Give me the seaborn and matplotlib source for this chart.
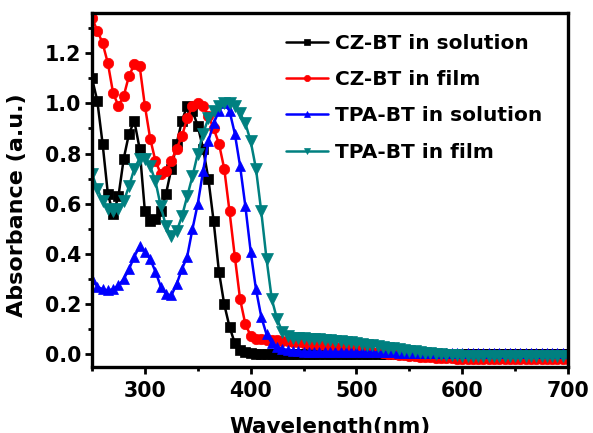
import matplotlib
matplotlib.use("Agg")
import matplotlib.pyplot as plt
from matplotlib.ticker import MultipleLocator, FormatStrFormatter
import seaborn as sns
import pandas as pd

wavelength = list(range(250, 705, 5))

cz_solution = [
    1.10, 1.01, 0.84, 0.64, 0.56, 0.63, 0.78, 0.88, 0.93, 0.82,
    0.57, 0.53, 0.54, 0.57, 0.64, 0.74, 0.84, 0.93, 0.99, 0.97,
    0.91, 0.82, 0.70, 0.53, 0.33, 0.20, 0.11, 0.045, 0.018, 0.008,
    0.004, 0.002, 0.001, 0.0, 0.0, 0.0, 0.0, 0.0, 0.0, 0.0,
    0.0, 0.0, 0.0, 0.0, 0.0, 0.0, 0.0, 0.0, 0.0, 0.0,
    0.0, 0.0, 0.0, 0.0, 0.0, 0.0, 0.0, 0.0, 0.0, 0.0,
    0.0, 0.0, 0.0, 0.0, 0.0, 0.0, 0.0, 0.0, 0.0, 0.0,
    0.0, 0.0, 0.0, 0.0, 0.0, 0.0, 0.0, 0.0, 0.0, 0.0,
    0.0, 0.0, 0.0, 0.0, 0.0, 0.0, 0.0, 0.0, 0.0, 0.0,
    0.0,
]

cz_film = [
    1.34, 1.29, 1.24, 1.16, 1.04, 0.99, 1.03, 1.11, 1.155, 1.15,
    0.99, 0.86, 0.77, 0.72, 0.73, 0.77, 0.82, 0.87, 0.94, 0.99,
    1.00, 0.99, 0.95, 0.90, 0.84, 0.74, 0.57, 0.39, 0.22, 0.12,
    0.075, 0.063, 0.060, 0.058, 0.057, 0.056, 0.055, 0.053, 0.050, 0.048,
    0.046, 0.043, 0.040, 0.038, 0.036, 0.034, 0.031, 0.028, 0.025, 0.022,
    0.020, 0.017, 0.014, 0.011, 0.008, 0.005, 0.002, 0.0, -0.002, -0.004,
    -0.006, -0.008, -0.010, -0.011, -0.012, -0.013, -0.014, -0.015, -0.016, -0.017,
    -0.018, -0.018, -0.019, -0.019, -0.019, -0.020, -0.020, -0.020, -0.020, -0.020,
    -0.020, -0.020, -0.020, -0.020, -0.020, -0.020, -0.020, -0.020, -0.020, -0.020,
    -0.020,
]

tpa_solution = [
    0.30, 0.27, 0.26, 0.255, 0.26, 0.275, 0.30, 0.34, 0.39, 0.43,
    0.41, 0.38, 0.33, 0.27, 0.24, 0.235, 0.28, 0.34, 0.39, 0.50,
    0.60, 0.73, 0.85, 0.92, 0.97, 1.00, 0.97, 0.88, 0.75, 0.59,
    0.41, 0.26, 0.15, 0.08, 0.045, 0.03, 0.022, 0.018, 0.015, 0.012,
    0.011, 0.010, 0.010, 0.010, 0.010, 0.010, 0.010, 0.010, 0.010, 0.009,
    0.009, 0.009, 0.009, 0.008, 0.008, 0.008, 0.008, 0.008, 0.007, 0.007,
    0.007, 0.007, 0.007, 0.006, 0.006, 0.006, 0.006, 0.006, 0.006, 0.005,
    0.005, 0.005, 0.005, 0.005, 0.005, 0.005, 0.005, 0.005, 0.005, 0.005,
    0.005, 0.005, 0.005, 0.005, 0.005, 0.005, 0.005, 0.005, 0.005, 0.005,
    0.005,
]

tpa_film = [
    0.72, 0.66, 0.61, 0.58, 0.57, 0.58, 0.61, 0.67, 0.74, 0.78,
    0.78, 0.75, 0.69, 0.59, 0.51, 0.47, 0.49, 0.55, 0.63, 0.71,
    0.80, 0.88, 0.94, 0.97, 0.99, 1.00, 1.00, 0.99, 0.96, 0.92,
    0.85, 0.74, 0.57, 0.38, 0.22, 0.14, 0.09, 0.072, 0.066, 0.065,
    0.064, 0.063, 0.062, 0.060, 0.058, 0.056, 0.054, 0.052, 0.050, 0.048,
    0.045, 0.042, 0.039, 0.036, 0.033, 0.030, 0.027, 0.024, 0.021, 0.018,
    0.015, 0.012, 0.009, 0.006, 0.004, 0.002, 0.0, -0.002, -0.003, -0.004,
    -0.005, -0.005, -0.005, -0.006, -0.006, -0.006, -0.006, -0.007, -0.007, -0.007,
    -0.007, -0.007, -0.008, -0.008, -0.008, -0.008, -0.008, -0.008, -0.008, -0.008,
    -0.008,
]

series_names = ["CZ-BT in solution", "CZ-BT in film", "TPA-BT in solution", "TPA-BT in film"]
series_values = [cz_solution, cz_film, tpa_solution, tpa_film]
x_ticks = [300, 400, 500, 600, 700]
y_ticks = [0.0, 0.2, 0.4, 0.6, 0.8, 1.0, 1.2]

colors = ["#000000", "#FF0000", "#0000FF", "#008080"]
markers = ["s", "o", "^", "v"]
msizes = [6.5, 7.5, 7.5, 8.0]

sns.set_style("ticks")
plt.rcParams["font.family"] = ["DejaVu Sans"]
plt.rcParams["font.weight"] = "bold"
plt.rcParams["text.color"] = "black"
plt.rcParams["axes.labelcolor"] = "black"
plt.rcParams["xtick.color"] = "black"
plt.rcParams["ytick.color"] = "black"

fig = plt.figure(figsize=(5.93, 4.33), dpi=100)
ax = fig.add_axes([92 / 593, 66 / 433, 476 / 593, 354 / 433])

for name, vals, c, m, ms in zip(series_names, series_values, colors, markers, msizes):
    df = pd.DataFrame({"Wavelength": wavelength, "Absorbance": vals})
    sns.lineplot(data=df, x="Wavelength", y="Absorbance", ax=ax, color=c,
                 marker=m, markersize=ms, markeredgecolor=c, markeredgewidth=0.5,
                 linewidth=1.8, label=name)

ax.set_xlim(250, 700)
ax.set_ylim(-0.05, 1.36)
ax.set_xticks(x_ticks)
ax.set_yticks(y_ticks)
ax.yaxis.set_major_formatter(FormatStrFormatter("%.1f"))
ax.xaxis.set_minor_locator(MultipleLocator(50))
ax.yaxis.set_minor_locator(MultipleLocator(0.1))

for sp in ax.spines.values():
    sp.set_linewidth(2.4)
    sp.set_color("black")

ax.tick_params(axis="both", which="major", direction="out", length=5, width=2,
               labelsize=14.8, colors="black", labelcolor="black")
ax.tick_params(axis="both", which="minor", direction="out", length=3, width=2)
ax.tick_params(axis="x", which="both", pad=5, top=False)
ax.tick_params(axis="y", which="both", pad=3, right=False)
for lab in ax.get_xticklabels() + ax.get_yticklabels():
    lab.set_fontweight("bold")
    lab.set_color("black")

ax.set_xlabel("Wavelength(nm)", fontsize=15.5, fontweight="bold", color="black")
ax.set_ylabel("Absorbance (a.u.)", fontsize=16, fontweight="bold", color="black")
ax.xaxis.set_label_coords(0.5, -0.141)
ax.yaxis.set_label_coords(-0.137, 0.458)

handles, labels = ax.get_legend_handles_labels()
leg = ax.legend(handles, labels, loc="upper left", bbox_to_anchor=(0.408, 0.94),
                frameon=False, borderpad=0, borderaxespad=0, handlelength=2.1,
                handletextpad=0.3, labelspacing=0.85, markerscale=0.6,
                prop={"size": 14.5, "weight": "bold"})
for t in leg.get_texts():
    t.set_color("black")

fig.savefig("out.png", dpi=100)
